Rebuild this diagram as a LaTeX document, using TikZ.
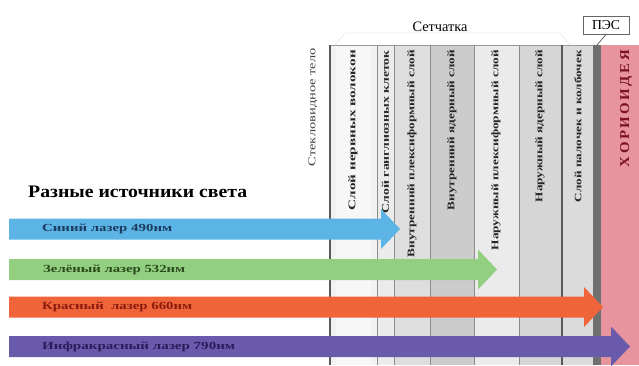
\documentclass[tikz,border=0pt]{standalone}
\usepackage{fontspec}
\setmainfont{Liberation Serif}
\usepackage{graphicx}
\definecolor{lblue}{HTML}{5BB4E5}
\definecolor{lbluet}{HTML}{1B3C5E}
\definecolor{lgreen}{HTML}{92CF80}
\definecolor{lgreent}{HTML}{2B4A1C}
\definecolor{lred}{HTML}{F0643A}
\definecolor{lredt}{HTML}{8A1A0C}
\definecolor{lpurple}{HTML}{6A5AAB}
\definecolor{lpurplet}{HTML}{2A1C5C}
\definecolor{chor}{HTML}{E8949E}
\definecolor{chort}{HTML}{7A1424}
\definecolor{pes}{HTML}{707070}
\newcommand{\lzarrow}[3]{%
  \fill[#3] (9,#2-10.5) -- (#1-19,#2-10.5) -- (#1-19,#2-20) -- (#1,#2)
    -- (#1-19,#2+20) -- (#1-19,#2+10.5) -- (9,#2+10.5) -- cycle;}
\begin{document}
\begin{tikzpicture}[x=1pt,y=-1pt,
  coltext/.style={rotate=90,anchor=east,inner sep=0pt,text=black!85},
  lztext/.style={anchor=west,inner sep=0pt},
  sepline/.style={draw=black!45,line width=0.9pt},
  sepdark/.style={draw=black!65,line width=1.6pt}]
\useasboundingbox (0,0) rectangle (639,365);
% columns
\fill[black!5]  (330,45) rectangle (377,365);
\fill[black!3]  (336,45) rectangle (371,365);
\fill[black!8]  (377,45) rectangle (394,365);
\fill[black!13] (394,45) rectangle (430,365);
\fill[black!20] (430,45) rectangle (474,365);
\fill[black!8]  (474,45) rectangle (519,365);
\fill[black!16] (519,45) rectangle (562,365);
\fill[blue!3!black!14] (562,45) rectangle (593,365);
\fill[pes] (593,45) rectangle (601,365);
\fill[chor] (601,45) rectangle (639,365);
\draw[black!40,line width=0.8pt] (330,45) -- (593,45);
\draw[black!8,line width=0.8pt] (335,45) -- (345,33) -- (560,33) -- (570,45);
\foreach \xx in {377,394,430,474,519} \draw[sepline] (\xx,45) -- (\xx,365);
\draw[sepdark] (330,45) -- (330,365);
\draw[sepdark] (562,45) -- (562,365);
% header labels
\node[inner sep=0pt] (ret) at (440,27) {\resizebox{55pt}{!}{Сетчатка}};
\node[draw=black!60,line width=0.9pt,fill=white,minimum width=46pt,minimum height=18pt,inner sep=0pt] (pesbox) at (606,25) {\resizebox{28pt}{!}{ПЭС}};
\coordinate (pestop) at (597,45);
\draw[black!60,line width=0.8pt] (pesbox.south) -- (pestop);
% column labels
\node[coltext,text=black!75] (vit) at (313,48) {\resizebox{118pt}{7pt}{Стекловидное тело}};
\node[coltext] (c1) at (353,50) {\resizebox{160pt}{7pt}{\textbf{Слой нервных волокон}}};
\node[coltext] (c2) at (385.5,50) {\resizebox{163pt}{7pt}{\textbf{Слой ганглиозных клеток}}};
\node[coltext] (c3) at (412,50) {\resizebox{207pt}{7pt}{\textbf{Внутренний плексиформный слой}}};
\node[coltext] (c4) at (452,50) {\resizebox{160pt}{7pt}{\textbf{Внутренний ядерный слой}}};
\node[coltext] (c5) at (496,50) {\resizebox{200pt}{7pt}{\textbf{Наружный плексиформный слой}}};
\node[coltext] (c6) at (540,50) {\resizebox{152pt}{7pt}{\textbf{Наружный ядерный слой}}};
\node[coltext] (c7) at (578,50) {\resizebox{152pt}{7pt}{\textbf{Слой палочек и колбочек}}};
\node[coltext,text=chort] (c8) at (626,50) {\resizebox{117pt}{9pt}{\textbf{Х\,О\,Р\,И\,О\,И\,Д\,Е\,Я}}};
% title
\node[anchor=south west,inner sep=0pt] (title) at (28,198) {\resizebox{219pt}{11.5pt}{\textbf{Разные источники света}}};
% arrows
\lzarrow{400}{229}{lblue}
\lzarrow{497}{269.5}{lgreen}
\lzarrow{603}{307}{lred}
\lzarrow{630}{346.5}{lpurple}
\node[lztext,text=lbluet] (t1) at (42,229) {\resizebox{130pt}{7.5pt}{\textbf{Синий лазер 490нм}}};
\node[lztext,text=lgreent] (t2) at (43,269.5) {\resizebox{142pt}{7.5pt}{\textbf{Зелёный лазер 532нм}}};
\node[lztext,text=lredt] (t3) at (42,307) {\resizebox{150pt}{7.5pt}{\textbf{Красный \ лазер 660нм}}};
\node[lztext,text=lpurplet] (t4) at (42,346.5) {\resizebox{193pt}{7.5pt}{\textbf{Инфракрасный лазер 790нм}}};
\end{tikzpicture}
\end{document}
